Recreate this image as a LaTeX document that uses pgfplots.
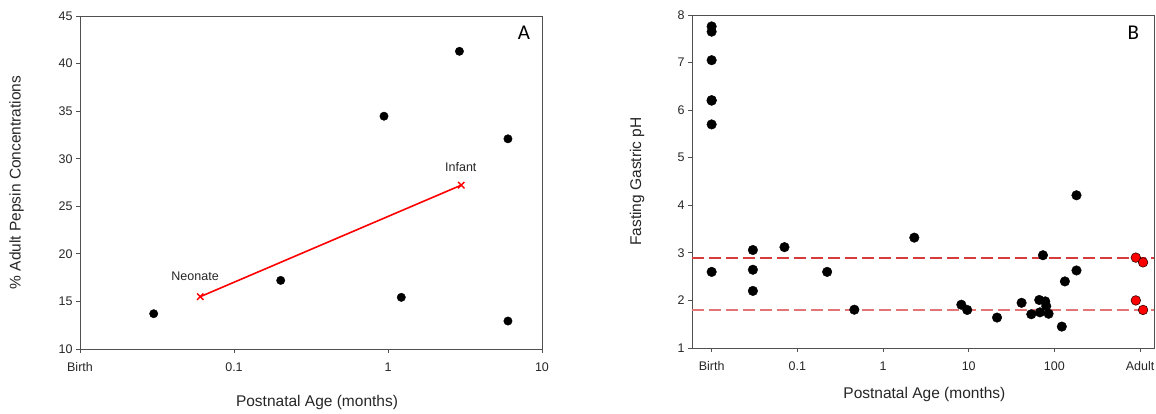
\documentclass[border=0pt]{standalone}
\usepackage{pgfplots}
\pgfplotsset{compat=1.18}
\usepackage{fontspec}
\setmainfont{Liberation Sans}
\newfontfamily\carlito{Carlito}
\definecolor{axgray}{HTML}{505050}
\definecolor{refLo}{RGB}{226,118,118}
\pgfplotsset{
  common/.style={
    scale only axis, width=462pt, height=333pt,
    anchor=south west,
    xminorticks=false,
    tick align=outside, xtick pos=bottom, ytick pos=left,
    major tick length=4pt,
    axis line style={axgray, line width=0.8pt},
    tick style={axgray, line width=0.8pt},
    /pgf/number format/assume math mode=true,
    ticklabel style={font=\fontsize{12.5}{15}\selectfont, text=black!85},
    xticklabel style={yshift=-6pt},
    clip=false,
  }
}
\begin{document}
\begin{tikzpicture}
\path[use as bounding box] (0,0) rectangle (1156pt,413pt);
% Panel A
\begin{axis}[xmode=log, common,
  at={(80pt,64pt)},
  xmin=0.01, xmax=10, ymin=10, ymax=45,
  xtick={0.01,0.1,1,10}, xticklabels={Birth,0.1,1,10},
  ytick={10,15,20,25,30,35,40,45},
  xlabel={Postnatal Age (months)},
  ylabel={\% Adult Pepsin Concentrations},
  every axis x label/.style={at={(axis description cs:0.513,-0.162)}, anchor=center, font=\fontsize{15.5}{18}\selectfont, text=black!85},
  every axis y label/.style={at={(axis description cs:-0.137,0.5)}, anchor=center, rotate=90, font=\fontsize{15.5}{18}\selectfont, text=black!85},
]
\addplot[only marks, mark=*, mark size=4.2pt, black] coordinates {
  (0.0301,13.71) (0.201,17.21) (0.942,34.47) (1.22,15.43)
  (2.91,41.29) (6.01,32.09) (6.01,12.94)
};
\addplot[draw=red, line width=1.6pt, mark=x, mark size=4.5pt, mark options={draw=red, line width=1.4pt}] coordinates {
  (0.0604,15.5) (2.99,27.22)
};
\node[font=\fontsize{12.5}{15}\selectfont, text=black!85] at (axis cs:0.0559,17.6) {Neonate};
\node[font=\fontsize{12.5}{15}\selectfont, text=black!85] at (axis cs:2.97,29.1) {Infant};
\node[font=\carlito\fontsize{21}{24}\selectfont] at (axis description cs:0.961,0.95) {A};
\end{axis}
% Panel B
\begin{axis}[xmode=log, common,
  at={(692pt,65pt)},
  xmin=0.0059, xmax=1453, ymin=1, ymax=8,
  xtick={0.01,0.1,1,10,100,1000}, xticklabels={Birth,0.1,1,10,100,Adult},
  ytick={1,2,3,4,5,6,7,8},
  xlabel={Postnatal Age (months)},
  ylabel={Fasting Gastric pH},
  every axis x label/.style={at={(axis description cs:0.503,-0.141)}, anchor=center, font=\fontsize{15.5}{18}\selectfont, text=black!85},
  every axis y label/.style={at={(axis description cs:-0.119,0.5)}, anchor=center, rotate=90, font=\fontsize{15.5}{18}\selectfont, text=black!85},
]
\addplot[color=refLo, line width=1.6pt, dash pattern=on 12pt off 5pt, forget plot] coordinates {(0.0059,1.8) (1453,1.8)};
\addplot[color={rgb,255:red,214;green,60;blue,60}, line width=2pt, dash pattern=on 12pt off 5pt, forget plot] coordinates {(0.0059,2.9) (1453,2.9)};
\addplot[only marks, mark=*, mark size=4.8pt, black] coordinates {
  (0.01,7.76) (0.01,7.65) (0.01,7.05) (0.01,6.21) (0.01,6.20) (0.01,5.70) (0.01,2.60)
  (0.0303,3.06) (0.0303,2.645) (0.0303,2.20)
  (0.0708,3.12) (0.2227,2.60) (0.4627,1.805) (2.317,3.32)
  (8.2,1.91) (9.6,1.80) (21.4,1.64) (41.4,1.95) (53.7,1.71)
  (66.5,2.01) (67.8,1.75) (78.2,1.98) (80.3,1.88) (85.5,1.72)
  (73.5,2.95) (122,1.45) (132.5,2.40) (181,2.63) (181,4.21)
};
\addplot[only marks, mark=*, mark size=4.8pt, mark options={fill=red, draw=black!80!red, line width=0.6pt}] coordinates {
  (891,2.90) (1083,2.80) (891,2.00) (1083,1.80)
};
\node[font=\carlito\fontsize{21}{24}\selectfont] at (axis description cs:0.955,0.946) {B};
\end{axis}
\end{tikzpicture}
\end{document}
